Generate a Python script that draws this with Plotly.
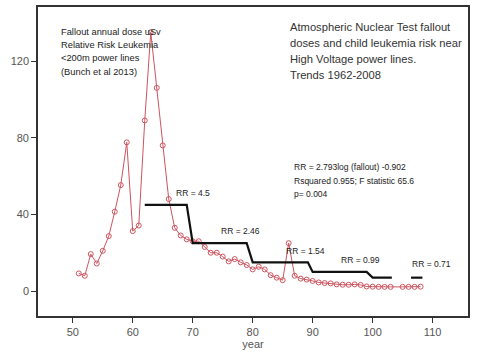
import plotly.graph_objects as go

years = [51, 52, 53, 54, 55, 56, 57, 58, 59, 60, 61, 62, 63, 64, 65, 66, 67, 68, 69, 70,
         71, 72, 73, 74, 75, 76, 77, 78, 79, 80, 81, 82, 83, 84, 85, 86, 87, 88, 89, 90,
         91, 92, 93, 94, 95, 96, 97, 98, 99, 100, 101, 102, 103, 105, 106, 107, 108]
dose = [9.2, 8, 19.3, 14.4, 21, 28.7, 41.4, 55.3, 77.6, 31.3, 34.2, 89, 135, 106, 76, 48, 33, 29, 27, 26,
        26, 23, 20, 20, 18, 15.5, 16.7, 15, 13.6, 11.3, 12.7, 11.3, 8.3, 7, 5.7, 25, 8, 6.5, 6, 5.3,
        4.5, 4.2, 4, 3.5, 3.3, 3.3, 3.5, 3.2, 2.4, 2.3, 2.2, 2.2, 2.2, 2.2, 2.2, 2.2, 2.3]

rr_x = [62, 69, 70, 79, 80, 89.2, 90, 99, 100, 103.2, None, 106.4, 108.3]
rr_y = [45, 45, 25, 25, 15, 15, 10, 10, 7, 7, None, 7, 7]

rr_labels = ["RR = 4.5", "RR = 2.46", "RR = 1.54", "RR = 0.99", "RR = 0.71"]
rr_label_x = [67.2, 74.7, 85.6, 94.7, 106.5]
rr_label_y = [47.5, 27.5, 17.5, 12.5, 10.3]

note_left = ["Fallout annual dose uSv", "Relative Risk Leukemia", "<200m power lines", "(Bunch et al 2013)"]
note_title = ["Atmospheric Nuclear Test fallout", "doses and child leukemia risk near",
              "High Voltage power lines.", "Trends 1962-2008"]
note_fit = ["RR = 2.793log (fallout) -0.902", "Rsquared 0.955; F statistic 65.6", "p= 0.004"]

x_ticks = [50, 60, 70, 80, 90, 100, 110]
y_ticks = [0, 40, 80, 120]

FONT = "Liberation Sans, Arial, sans-serif"
W, H = 480, 360
ML, MR, MT, MB = 38, 12, 7, 44
PW, PH = W - ML - MR, H - MT - MB


def px2paper(px, py):
    return (px - ML) / PW, (H - MB - py) / PH


fig = go.Figure()
fig.add_trace(go.Scatter(
    x=years, y=dose, mode="lines+markers",
    line=dict(color="#cc5560", width=1),
    marker=dict(symbol="circle-open", size=5, color="#cc5560", line=dict(width=1)),
    showlegend=False, hoverinfo="skip"))
fig.add_trace(go.Scatter(
    x=rr_x, y=rr_y, mode="lines", connectgaps=False,
    line=dict(color="#111111", width=2.2),
    showlegend=False, hoverinfo="skip"))

for t, x, y in zip(rr_labels, rr_label_x, rr_label_y):
    fig.add_annotation(x=x, y=y, text=t, showarrow=False, xanchor="left", yanchor="bottom",
                       xshift=-2, font=dict(family=FONT, size=8.5, color="#222"))


def add_lines(lines, px, py0, dy, size, color):
    for i, t in enumerate(lines):
        xp, yp = px2paper(px, py0 + i * dy)
        fig.add_annotation(xref="paper", yref="paper", x=xp, y=yp, xanchor="left", yanchor="middle",
                           showarrow=False, text=t.replace("<", "&lt;"),
                           font=dict(family=FONT, size=size, color=color))


add_lines(note_left, 59, 31.7, 13.3, 9.3, "#222")
add_lines(note_title, 288, 26.7, 16.1, 11.2, "#333")
add_lines(note_fit, 291.5, 166.7, 13.8, 8.5, "#222")

fig.update_layout(
    width=W, height=H,
    margin=dict(l=ML, r=MR, t=MT, b=MB),
    paper_bgcolor="white", plot_bgcolor="white",
    font=dict(family=FONT, color="#555"),
    xaxis=dict(range=[44.2, 115.9], tickvals=x_ticks, ticks="outside", ticklen=5,
               tickcolor="#333", showline=True, linecolor="#333", linewidth=1.6, mirror=True,
               showgrid=False, zeroline=False, automargin=False,
               tickfont=dict(size=11, color="#555"),
               title=dict(text="year", font=dict(size=11, color="#555"), standoff=2)),
    yaxis=dict(range=[-13, 148.2], tickvals=y_ticks, ticks="outside", ticklen=5,
               tickcolor="#333", showline=True, linecolor="#333", linewidth=1.6, mirror=True,
               showgrid=False, zeroline=False, automargin=False,
               tickfont=dict(size=11, color="#555")),
)

fig.write_html("out.html", config={"displayModeBar": False},
               post_script="document.body.style.margin='0';")
